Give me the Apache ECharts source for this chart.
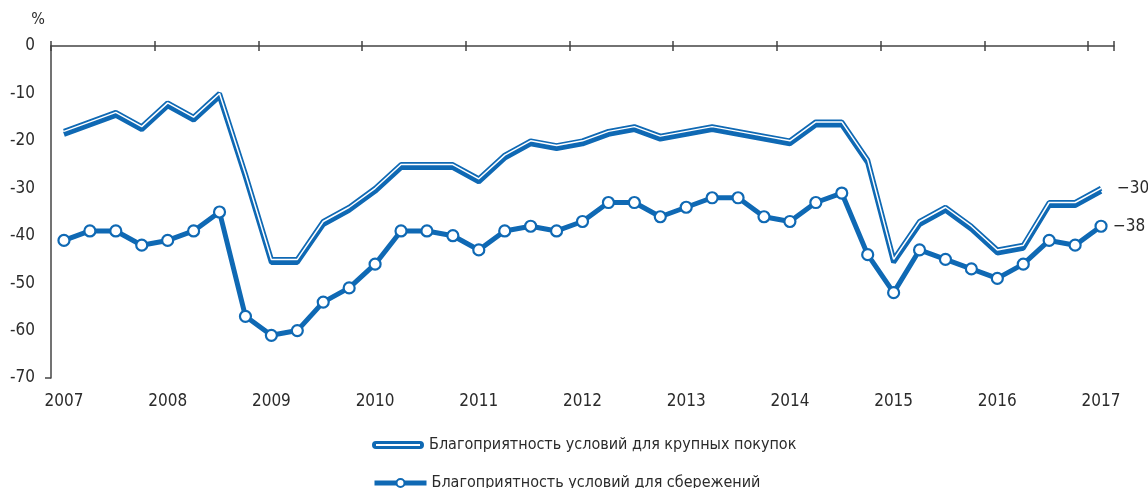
<!DOCTYPE html>
<html lang="ru">
<head>
    <meta charset="UTF-8">
    <title>Благоприятность условий</title>
    <script src="https://cdn.jsdelivr.net/npm/echarts@6/dist/echarts.min.js"></script>
    <style>
        html, body { margin: 0; padding: 0; background: #fff; }
        #chart { width: 1148px; height: 488px; }
    </style>
</head>
<body>
    <div id="chart"></div>
    <script>
        // квартальные точки 2007 Q1 ... 2017 Q1
        var years = ['2007','2008','2009','2010','2011','2012','2013','2014','2015','2016','2017'];
        var quarters = [];
        for (var y = 0; y < years.length; y++) {
            for (var q = 1; q <= 4; q++) {
                if (y === years.length - 1 && q > 1) break;
                quarters.push(years[y] + ' Q' + q);
            }
        }

        var purchases = [
            -18, -16, -14, -17, -12, -15, -10, -27,
            -45, -45, -37, -34, -30, -25, -25, -25,
            -28, -23, -20, -21, -20, -18, -17, -19,
            -18, -17, -18, -19, -20, -16, -16, -24,
            -45, -37, -34, -38, -43, -42, -33, -33,
            -30
        ];
        var savings = [
            -41, -39, -39, -42, -41, -39, -35, -57,
            -61, -60, -54, -51, -46, -39, -39, -40,
            -43, -39, -38, -39, -37, -33, -33, -36,
            -34, -32, -32, -36, -37, -33, -31, -44,
            -52, -43, -45, -47, -49, -46, -41, -42,
            -38
        ];
        var yTicks = [0, -10, -20, -30, -40, -50, -60, -70];

        var blue = '#0f69b4';
        var ink = '#2b2b2b';
        var font = "'Liberation Sans Narrow', 'DejaVu Sans Condensed', sans-serif";
        var nameBuy = 'Благоприятность условий для крупных покупок';
        var nameSave = 'Благоприятность условий для сбережений';

        function minus(v) { return '\u2212' + Math.abs(v); }

        var chart = echarts.init(document.getElementById('chart'));
        var topAxis = {
            type: 'category', data: quarters, position: 'top', boundaryGap: true,
            axisLine: { show: true, onZero: false, lineStyle: { color: '#444', width: 1.5 } },
            axisTick: { show: true, interval: 3, length: 5, lineStyle: { color: '#444', width: 1.5 } },
            axisLabel: { show: false }, splitLine: { show: false }
        };
        var topAxisIn = JSON.parse(JSON.stringify(topAxis));
        topAxisIn.axisTick.inside = true;
        topAxisIn.axisLine.show = false;

        var legendBase = {
            orient: 'vertical', left: 367, itemWidth: 52, itemHeight: 10,
            textStyle: { fontFamily: font, fontSize: 16, color: ink }
        };

        chart.setOption({
            animation: false,
            textStyle: { fontFamily: font },
            grid: { left: 51, top: 46, width: 1063, height: 332 },
            legend: [
                Object.assign({}, legendBase, {
                    top: 432,
                    data: [{ name: nameBuy,
                        icon: 'path://M4,0 H48 A4,4 0 0 1 48,8 H4 A4,4 0 0 1 4,0 Z M4,3 V5 H48 V3 Z' }]
                }),
                Object.assign({}, legendBase, {
                    top: 470,
                    data: [{ name: nameSave, lineStyle: { width: 5, color: blue } }]
                })
            ],
            xAxis: [
                {
                    type: 'category', data: quarters, position: 'bottom', boundaryGap: true,
                    axisLine: { show: false, onZero: false }, axisTick: { show: false },
                    axisLabel: {
                        interval: 3, margin: 15, fontSize: 17, color: ink,
                        formatter: function (v) { return v.slice(0, 4); }
                    }
                },
                topAxis,
                topAxisIn
            ],
            yAxis: {
                type: 'value', min: -70, max: 0, interval: 10,
                name: '%', nameLocation: 'end', nameGap: 18,
                nameTextStyle: { fontFamily: font, fontSize: 16, color: ink, align: 'right', padding: [0, 6, 0, 0] },
                axisLine: { show: true, lineStyle: { color: '#444', width: 1.5 } },
                axisTick: { show: false },
                splitLine: { show: false },
                axisLabel: {
                    margin: 16, fontSize: 17, color: ink,
                    formatter: function (v) { return yTicks.indexOf(v) >= 0 ? String(v) : ''; }
                }
            },
            graphic: [{
                type: 'line', silent: true,
                shape: { x1: 45, y1: 378, x2: 51, y2: 378 },
                style: { stroke: '#444', lineWidth: 1.5 }
            }],
            series: [
                {
                    name: nameBuy,
                    type: 'line', data: purchases, showSymbol: false, symbol: 'none',
                    color: blue,
                    // полоса смещена вниз тенью, белая линия остаётся в верхней части
                    lineStyle: { color: blue, width: 5, shadowColor: blue, shadowBlur: 0, shadowOffsetY: 3 },
                    endLabel: {
                        show: true, distance: 16, fontSize: 17, color: ink, fontFamily: font,
                        formatter: function (p) { return minus(p.value); }
                    },
                    z: 2
                },
                {
                    name: 'white-core', type: 'line', data: purchases, symbol: 'none',
                    lineStyle: { color: '#fff', width: 1.5 }, silent: true, z: 3
                },
                {
                    name: nameSave,
                    type: 'line', data: savings, symbol: 'circle', symbolSize: 11, showSymbol: true,
                    lineStyle: { color: blue, width: 5 },
                    itemStyle: { color: '#fff', borderColor: blue, borderWidth: 2.2 },
                    endLabel: {
                        show: true, distance: 12, fontSize: 17, color: ink, fontFamily: font,
                        formatter: function (p) { return minus(p.value); }
                    },
                    z: 4
                }
            ]
        });
    </script>
</body>
</html>
